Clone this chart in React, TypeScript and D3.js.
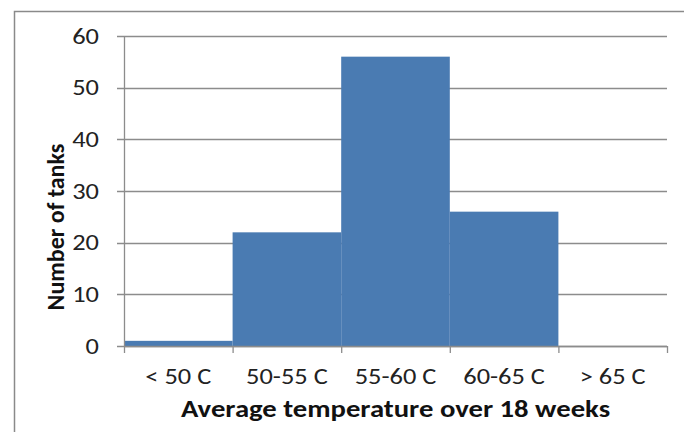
import React from "react";
import * as d3 from "d3";

const categories = ["< 50 C", "50-55 C", "55-60 C", "60-65 C", "> 65 C"];
const counts = [1, 22, 56, 26, 0];
const yTicks = [0, 10, 20, 30, 40, 50, 60];
const yTitle = "Number of tanks";
const xTitle = "Average temperature over 18 weeks";

export default function App() {
  const W = 684, H = 432;
  const left = 124, right = 667, top = 36, bottom = 346;
  const x = d3.scaleBand<string>().domain(categories).range([left, right]).padding(0);
  const y = d3.scaleLinear().domain([0, 60]).range([bottom, top]);
  const font = "Calibri, Carlito, 'Open Sans', 'Noto Sans', sans-serif";
  const grid = "#8c8c8c";
  const sx = 1.2;
  return (
    <svg width={W} height={H} style={{ position: "absolute", left: 0, top: 0 }}>
      <rect x={0} y={0} width={W} height={H} fill="#fff" />
      <rect x={14.5} y={11.5} width={W + 20} height={H + 20} fill="none" stroke="#8a8a8a" strokeWidth={1.5} />
      {yTicks.map((t) => (
        <g key={t}>
          <line x1={left - 7} x2={right} y1={Math.round(y(t)) + 0.5} y2={Math.round(y(t)) + 0.5} stroke={grid} strokeWidth={1.3} />
          <text transform={`translate(99,${y(t)}) scale(${sx},1)`} dy="0.35em" textAnchor="end" fontFamily={font} fontSize={22} fill="#222">
            {t}
          </text>
        </g>
      ))}
      {categories.map((c, i) => (
        <rect key={c} x={x(c)!} y={y(counts[i])} width={x.bandwidth()} height={y(0) - y(counts[i])} fill="#4a7bb2" />
      ))}
      <line x1={left + 0.5} x2={left + 0.5} y1={top} y2={bottom} stroke={grid} strokeWidth={1.3} />
      <line x1={left} x2={right} y1={bottom + 0.5} y2={bottom + 0.5} stroke={grid} strokeWidth={1.3} />
      {categories.concat([""]).map((c, i) => {
        const xx = left + i * x.bandwidth();
        return <line key={i} x1={xx + 0.5} x2={xx + 0.5} y1={bottom} y2={bottom + 7} stroke={grid} strokeWidth={1.3} />;
      })}
      {categories.map((c) => (
        <text key={c} transform={`translate(${x(c)! + x.bandwidth() / 2},376) scale(${sx},1)`} dy="0.35em" textAnchor="middle" fontFamily={font} fontSize={22} fill="#222">
          {c}
        </text>
      ))}
      <text transform={`translate(${(left + right) / 2 + 0},409) scale(1.22,1)`} dy="0.35em" textAnchor="middle" fontFamily={font} fontSize={23.5} fontWeight="bold" fill="#111">
        {xTitle}
      </text>
      <text transform={`translate(56,227) rotate(-90)`} dy="0.35em" textAnchor="middle" fontFamily={font} fontSize={24} fontWeight="bold" fill="#111">
        {yTitle}
      </text>
    </svg>
  );
}
